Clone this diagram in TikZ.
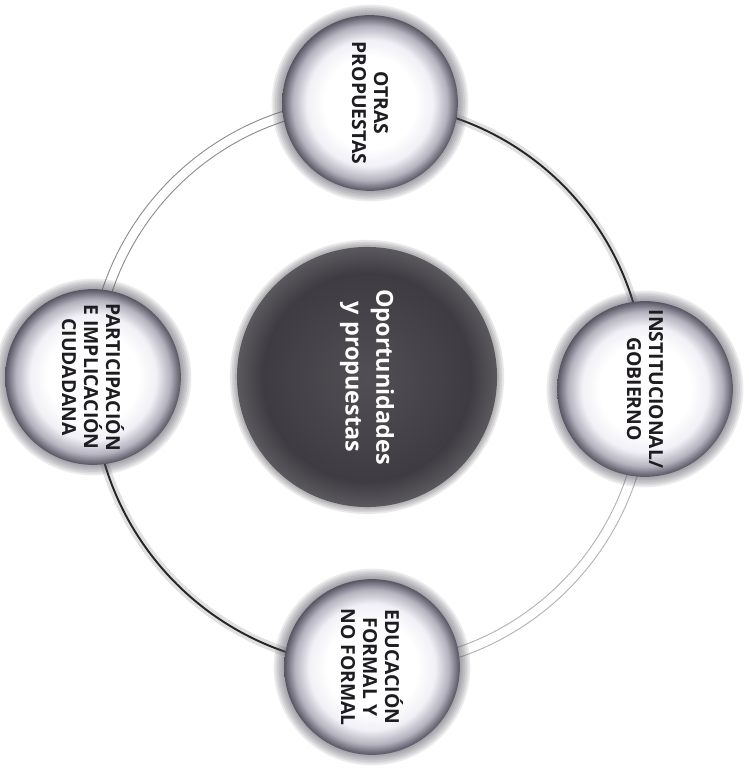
\documentclass[tikz,border=0pt]{standalone}
\usepackage{fontspec}
\setmainfont{Open Sans}
\usetikzlibrary{backgrounds}

\definecolor{rimdark}{RGB}{88,85,98}
\definecolor{rimmid}{RGB}{180,178,190}
\definecolor{ballfill}{RGB}{240,240,246}
\definecolor{hubdark}{RGB}{62,60,66}
\definecolor{inktext}{RGB}{30,28,32}

\pgfdeclareradialshading{ballshade}{\pgfpoint{0bp}{0bp}}{color(0bp)=(white); color(13bp)=(white); color(18bp)=(ballfill); color(22bp)=(rimmid); color(25bp)=(rimdark); color(50bp)=(rimdark)}
\pgfdeclareradialshading{hubshade}{\pgfpoint{0bp}{0bp}}{color(0bp)=(hubdark!90!white); color(20bp)=(hubdark); color(25bp)=(hubdark!85!white); color(50bp)=(hubdark!85!white)}

\tikzset{
  ball/.style={circle, minimum size=100pt, inner sep=0pt, shading=ballshade,
    text=inktext, align=center, rotate=-90,
    font=\bfseries\fontsize{11}{12.5}\selectfont},
  hub/.style={circle, minimum size=148pt, inner sep=0pt, shading=hubshade,
    text=white, align=center, rotate=-90,
    font=\bfseries\fontsize{13.3}{17.5}\selectfont},
  halo/.style={fill=#1, fill opacity=0.11},
  darkarc/.style={draw=black!85, line width=1.1pt},
  darkglow/.style={draw=black!40, line width=5pt, opacity=0.3},
  pairarc/.style={draw=#1, line width=0.6pt, double=white, double distance=5pt}
}

\begin{document}
\begin{tikzpicture}[x=0.2mm, y=0.2mm]
  \useasboundingbox (0,0) rectangle (748,769);

  % ring of proposals
  \node[hub] (hub) at (367,392) {Oportunidades\\y propuestas};
  \node[ball] (otras) at (370,666) {OTRAS\\PROPUESTAS};
  \node[ball] (instit) at (645,380) {INSTITUCIONAL/\\GOBIERNO};
  \node[ball] (educ) at (372,102) {EDUCACIÓN\\FORMAL Y\\NO FORMAL};
  \node[ball] (partic) at (93,392) {PARTICIPACIÓN\\E IMPLICACIÓN\\CIUDADANA};

  \begin{pgfonlayer}{background}
    \fill[white] (0,0) rectangle (748,769);
    \draw[darkglow] (otras.center) to[bend left=45] (instit.center);
    \draw[darkarc] (otras.center) to[bend left=45] (instit.center);
    \draw[pairarc=black!30] (instit.center) to[bend left=45] (educ.center);
    \draw[darkglow] (educ.center) to[bend left=45] (partic.center);
    \draw[darkarc] (educ.center) to[bend left=45] (partic.center);
    \draw[pairarc=black!45] (partic.center) to[bend left=45] (otras.center);
    % soft edges
    \foreach \b in {otras,instit,educ,partic}
      \foreach \d in {1,2,...,6}
        \fill[halo=rimdark] (\b.center) circle (50pt+\d pt);
    \foreach \d in {1,2,3,4}
      \fill[halo=hubdark] (hub.center) circle (74pt+\d pt);
  \end{pgfonlayer}
\end{tikzpicture}
\end{document}
